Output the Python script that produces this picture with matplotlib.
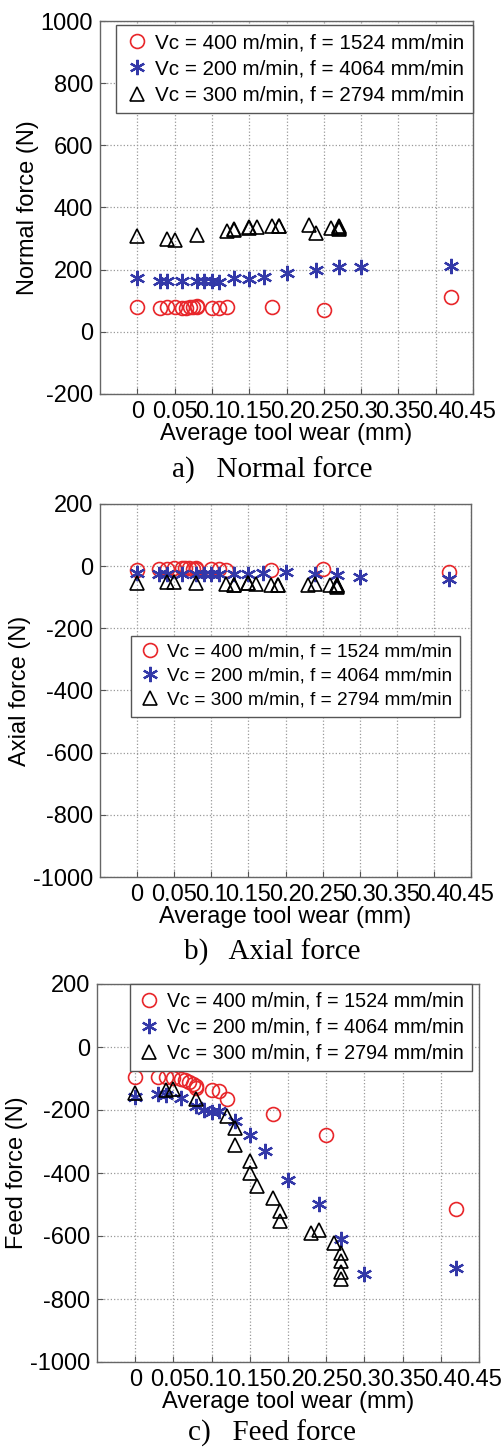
import matplotlib.pyplot as plt
import numpy as np

# Tool wear (mm) for each cutting condition
wear_red = [0, 0.03, 0.04, 0.05, 0.06, 0.065, 0.07, 0.075, 0.08, 0.08, 0.1, 0.11, 0.12, 0.18, 0.25, 0.42]
wear_blue = [0, 0.03, 0.04, 0.06, 0.08, 0.09, 0.1, 0.11, 0.13, 0.15, 0.17, 0.2, 0.24, 0.27, 0.3, 0.42]
wear_black = [0, 0.04, 0.05, 0.08, 0.12, 0.13, 0.13, 0.15, 0.15, 0.16, 0.18, 0.19, 0.19,
              0.23, 0.24, 0.26, 0.27, 0.27, 0.27, 0.27]

# Normal force (N)
normal_red = [80, 78, 80, 80, 78, 76, 80, 80, 82, 80, 78, 78, 80, 80, 69, 113]
normal_blue = [174, 163, 163, 163, 165, 165, 163, 161, 172, 170, 177, 188, 198, 207, 207, 212]
normal_black = [307, 299, 294, 312, 326, 331, 329, 336, 334, 338, 342, 342, 340,
                345, 318, 334, 338, 342, 335, 330]

# Axial force (N)
axial_red = [-12, -8, -8, -5, -5, -6, -7, -8, -6, -8, -10, -8, -12, -12, -10, -20]
axial_blue = [-21, -24, -24, -25, -24, -24, -25, -25, -25, -24, -21, -19, -25, -30, -34, -40]
axial_black = [-53, -51, -51, -53, -56, -59, -62, -53, -55, -57, -59, -59, -62,
               -62, -56, -59, -62, -66, -64, -60]

# Feed force (N)
feed_red = [-96, -94, -96, -99, -103, -106, -111, -117, -124, -130, -137, -141, -164, -214, -278, -515]
feed_blue = [-158, -148, -151, -161, -186, -200, -207, -203, -236, -280, -330, -421, -497, -609, -721, -700]
feed_black = [-145, -137, -134, -166, -220, -256, -311, -362, -399, -440, -478, -520, -551,
              -590, -581, -621, -655, -678, -715, -735]

labels = ['Vc = 400 m/min, f = 1524 mm/min',
          'Vc = 200 m/min, f = 4064 mm/min',
          'Vc = 300 m/min, f = 2794 mm/min']
xticks = [0, 0.05, 0.1, 0.15, 0.2, 0.25, 0.3, 0.35, 0.4, 0.45]
xticklabels = ['0', '0.05', '0.1', '0.15', '0.2', '0.25', '0.3', '0.35', '0.4', '0.45']

plt.rcParams['font.family'] = ['Liberation Sans', 'DejaVu Sans']
plt.rcParams['axes.unicode_minus'] = False

W, H = 501, 1447
fig = plt.figure(figsize=(W / 100, H / 100), dpi=100)


def px_axes(left, right, top, bottom):
    return fig.add_axes([left / W, 1 - bottom / H, (right - left) / W, (bottom - top) / H])


panels = [
    (px_axes(100, 473, 21, 394), normal_red, normal_blue, normal_black,
     'Normal force (N)', (-200, 1000), 'a)   Normal force', 470),
    (px_axes(100, 471, 504, 877), axial_red, axial_blue, axial_black,
     'Axial force (N)', (-1000, 200), 'b)   Axial force', 952),
    (px_axes(97, 479, 984, 1362), feed_red, feed_blue, feed_black,
     'Feed force (N)', (-1000, 200), 'c)   Feed force', 1433),
]

# legend placement and text size differ a little between the three panels
legend_pos = [('upper right', (1.0, 1 - 4 / 373), 14.9),
              ('upper left', (31 / 371, 1 - 132 / 373), 13.7),
              ('upper right', (375 / 382, 1.0), 14.2)]

for (ax, red, blue, black, ylab, ylim, caption, cap_y), (loc, anchor, lfs) in zip(panels, legend_pos):
    ax.plot(wear_red, red, linestyle='none', marker='o', ms=10, mfc='none',
            mec='#e8262a', mew=1.2, label=labels[0])
    ax.plot(wear_blue, blue, linestyle='none', marker=(6, 2, 0), ms=11,
            mec='#3338a8', mew=1.6, label=labels[1])
    ax.plot(wear_black, black, linestyle='none', marker='^', ms=10, mfc='none',
            mec='black', mew=1.2, label=labels[2])

    ax.set_xlim(-0.05, 0.45)
    ax.set_ylim(*ylim)
    ax.set_xticks(xticks)
    ax.set_xticklabels(xticklabels)
    ax.set_yticks(np.arange(ylim[0], ylim[1] + 1, 200))
    ax.tick_params(direction='in', length=4, labelsize=17, color='#555555', pad=5)
    ax.grid(True, linestyle=':', color='#999999', linewidth=0.9)
    for s in ax.spines.values():
        s.set_color('#666666')
        s.set_linewidth(1.0)
    ax.set_xlabel('Average tool wear (mm)', fontsize=17, labelpad=0)
    ax.set_ylabel(ylab, fontsize=17, labelpad=1)

    leg = ax.legend(loc=loc, bbox_to_anchor=anchor, borderaxespad=0, fontsize=lfs,
                    fancybox=False, framealpha=1, edgecolor='#555555',
                    handletextpad=0.3, handlelength=1.2, borderpad=0.4, labelspacing=0.35)
    leg.get_frame().set_linewidth(1.0)

    fig.text(272 / W, 1 - cap_y / H, caption, ha='center', va='center',
             fontsize=21, family='Liberation Serif')

fig.savefig('out.png', dpi=100)
